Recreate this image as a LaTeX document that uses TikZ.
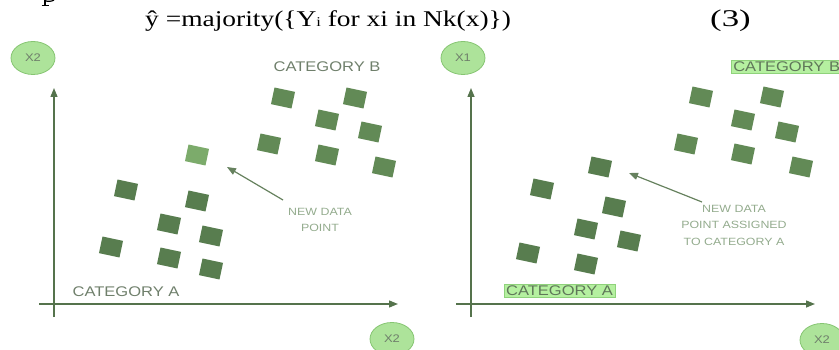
\documentclass[tikz,border=0pt]{standalone}
\usepackage{graphicx}
\usepackage{fontspec}
\setmainfont{Liberation Serif}
\newfontfamily\labelfont{Liberation Sans}
\usetikzlibrary{shapes.geometric,arrows.meta}

\definecolor{axiscol}{HTML}{55734C}
\definecolor{sqA}{HTML}{587D4F}
\definecolor{sqB}{HTML}{628A56}
\definecolor{sqNew}{HTML}{7CAB6B}
\definecolor{ellfill}{HTML}{ADE39A}
\definecolor{elldraw}{HTML}{86C572}
\definecolor{labeltext}{HTML}{6F7F6B}
\definecolor{notetext}{HTML}{93AB8D}
\definecolor{hlfill}{HTML}{B5F0A0}
\definecolor{hldraw}{HTML}{8FD27B}
\definecolor{hltext}{HTML}{5F7759}

% horizontally widened label text
\newcommand{\widetxt}[1]{\scalebox{1.18}[1]{#1}}

\begin{document}
\begin{tikzpicture}[x=1pt,y=-1pt,
  axisname/.style={ellipse, fill=ellfill, draw=elldraw, line width=0.8pt,
    minimum width=44pt, minimum height=33pt, inner sep=0pt,
    font=\labelfont\fontsize{11}{12}\selectfont, text=labeltext},
  pt/.style={rectangle, minimum width=21pt, minimum height=17pt,
    inner sep=0pt, rotate=-12},
  ptA/.style={pt, fill=sqA},
  ptB/.style={pt, fill=sqB},
  ptNew/.style={pt, fill=sqNew},
  axisline/.style={draw=axiscol, line width=1.4pt,
    -{Triangle[length=9pt,width=7pt]}},
  pointer/.style={draw=axiscol!90, line width=1.2pt,
    -{Triangle[length=9pt,width=7pt]}},
  catlabel/.style={inner sep=0pt, text=labeltext,
    font=\labelfont\fontsize{14}{16}\selectfont},
  hlabel/.style={catlabel, fill=hlfill, draw=hldraw, line width=0.6pt,
    text=hltext, inner xsep=2pt, inner ysep=1.5pt},
  note/.style={align=center, inner sep=0pt, text=notetext,
    font=\labelfont\fontsize{10.5}{16.5}\selectfont},
  serifline/.style={inner sep=0pt, font=\fontsize{22.5}{24}\selectfont},
]
\useasboundingbox (0,0) rectangle (839,350);

% bottom of a letter p from the line above, cut by the top edge
\draw[line width=1.6pt] (45,0) -- (45,5.6);
\draw[line width=0.9pt] (41.5,5.6) -- (48.8,5.6);
\draw[line width=1.2pt] (45.5,0.8) .. controls (48,1.8) and (52,1.4) .. (54,0);

% formula line
\node[serifline, anchor=base west] (formula) at (145,27)
  {\scalebox{1.22}[1]{ŷ =majority(\{Y{\fontsize{13.5}{14}\selectfont i} for xi in Nk(x)\})}};
\node[serifline, anchor=base west] (eqno) at (710,27)
  {\scalebox{1.45}[1]{\fontsize{24}{26}\selectfont (3)}};

% ---------- left panel: before classification ----------
\coordinate (L-ybot) at (54,317);
\coordinate (L-ytop) at (54,88);
\coordinate (L-xleft) at (39,304);
\coordinate (L-xright) at (398,304);
\draw[axisline] (L-ybot) -- (L-ytop);
\draw[axisline] (L-xleft) -- (L-xright);

\node[axisname] (L-xtop) at (33,58) {\widetxt{X2}};
\node[axisname] (L-xbot) at (392,339) {\widetxt{X2}};

\node[catlabel] (L-catB) at (327,67) {\widetxt{CATEGORY B}};
\node[catlabel] (L-catA) at (126,292) {\widetxt{CATEGORY A}};

% category B points
\node[ptB] (L-b1) at (283,98) {};
\node[ptB] (L-b2) at (355,98) {};
\node[ptB] (L-b3) at (327,120) {};
\node[ptB] (L-b4) at (370,132) {};
\node[ptB] (L-b5) at (269,144) {};
\node[ptB] (L-b6) at (327,155) {};
\node[ptB] (L-b7) at (384,167) {};

% category A points
\node[ptA] (L-a1) at (126,190) {};
\node[ptA] (L-a2) at (197,201) {};
\node[ptA] (L-a3) at (169,224) {};
\node[ptA] (L-a4) at (211,236) {};
\node[ptA] (L-a5) at (111,247) {};
\node[ptA] (L-a6) at (169,258) {};
\node[ptA] (L-a7) at (211,269) {};

% unclassified point
\node[ptNew] (L-new) at (197,155) {};

\node[note] (L-note) at (320,220) {\widetxt{NEW DATA}\\\widetxt{POINT}};
\coordinate (L-ptail) at (283,200);
\coordinate (L-phead) at (227,167);
\draw[pointer] (L-ptail) -- (L-phead);

% ---------- right panel: after classification ----------
\coordinate (R-ybot) at (471,317);
\coordinate (R-ytop) at (471,88);
\coordinate (R-xleft) at (456,304);
\coordinate (R-xright) at (815,304);
\draw[axisline] (R-ybot) -- (R-ytop);
\draw[axisline] (R-xleft) -- (R-xright);

\node[axisname] (R-xtop) at (463,58) {\widetxt{X1}};
\node[axisname] (R-xbot) at (822,340) {\widetxt{X2}};

\node[hlabel, anchor=west] (R-catB) at (731,67) {\widetxt{CATEGORY B}};
\node[hlabel] (R-catA) at (559.5,291) {\widetxt{CATEGORY A}};

% category B points
\node[ptB] (R-b1) at (701,97) {};
\node[ptB] (R-b2) at (772,97) {};
\node[ptB] (R-b3) at (743,120) {};
\node[ptB] (R-b4) at (787,132) {};
\node[ptB] (R-b5) at (686,144) {};
\node[ptB] (R-b6) at (743,154) {};
\node[ptB] (R-b7) at (801,167) {};

% category A points, new point included
\node[ptA] (R-new) at (600,167) {};
\node[ptA] (R-a1) at (542,189) {};
\node[ptA] (R-a2) at (614,207) {};
\node[ptA] (R-a3) at (586,229) {};
\node[ptA] (R-a4) at (629,241) {};
\node[ptA] (R-a5) at (528,253) {};
\node[ptA] (R-a6) at (586,264) {};

\node[note] (R-note) at (734,225) {\widetxt{NEW DATA}\\\widetxt{POINT ASSIGNED}\\\widetxt{TO CATEGORY A}};
\coordinate (R-ptail) at (702,202);
\coordinate (R-phead) at (629,173);
\draw[pointer] (R-ptail) -- (R-phead);
\end{tikzpicture}
\end{document}
